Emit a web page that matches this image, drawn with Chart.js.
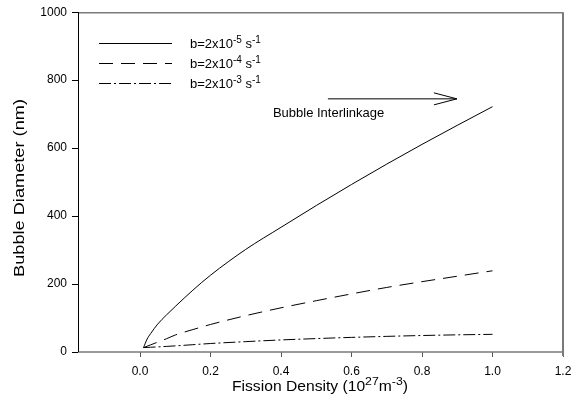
<!DOCTYPE html>
<html><head>
<script src="https://cdn.jsdelivr.net/npm/chart.js@4"></script>
<style>
body { margin: 0; background: #fff; }
#wrap { width: 583px; height: 410px; }
</style></head><body>
<div id="wrap"><canvas id="chart" width="583" height="410"></canvas></div>
<script>
// Fission density (10^27 m^-3)
const FISSION = [0.01, 0.02, 0.03, 0.05, 0.075, 0.1, 0.15, 0.2, 0.3, 0.4, 0.5, 0.6, 0.7, 0.8, 0.9, 1.0];
// Bubble diameter (nm) for each b value
const DIAM_B5 = [13, 38, 54, 82, 109, 134, 182, 226, 302, 367, 431, 493, 553, 611, 667, 722];
const DIAM_B4 = [13, 17, 21, 29, 39, 50, 66, 81, 107, 130, 151, 171, 190, 207, 223, 239];
const DIAM_B3 = [13, 13.5, 14, 15, 16.5, 18, 21.5, 25, 30.5, 35.5, 39.5, 43, 46, 48.5, 50.5, 52];

const SERIES_EXP = ['-5', '-4', '-3'];
const X_TICKS = [0.0, 0.2, 0.4, 0.6, 0.8, 1.0, 1.2];
const Y_TICKS = [0, 200, 400, 600, 800, 1000];

const FONT = '"Liberation Sans", Arial, sans-serif';
const DASHES = [[], [14, 8], [12, 3, 2, 3]];

// annotation: arrow + label, in data units
const ARROW = { x0: 0.533, x1: 0.899, y: 745 };
const NOTE = { x: 0.377, y: 701, text: 'Bubble Interlinkage' };

function toPoints(ys) {
  return FISSION.map((x, i) => ({ x, y: ys[i] }));
}

// draws pieces of text with superscripts, returns width
function drawRich(ctx, parts, x, y, size, measureOnly) {
  let cx = x;
  for (const p of parts) {
    const sz = p.sup ? Math.round(size * 0.75) : size;
    ctx.font = sz + 'px ' + FONT;
    if (!measureOnly) ctx.fillText(p.t, cx, p.sup ? y - size * 0.42 : y);
    cx += ctx.measureText(p.t).width;
  }
  return cx - x;
}

const decor = {
  id: 'decor',
  afterDraw(chart) {
    const { ctx, chartArea: a, scales } = chart;
    const xs = scales.x, ys = scales.y;
    ctx.save();

    // frame
    ctx.strokeStyle = '#7a7a7a';
    ctx.lineWidth = 1.5;
    ctx.beginPath();
    ctx.moveTo(a.left, a.top + 0.5);
    ctx.lineTo(a.right, a.top + 0.5);
    ctx.moveTo(a.left, a.bottom);
    ctx.lineTo(a.right, a.bottom);
    ctx.stroke();
    ctx.lineWidth = 2;
    ctx.beginPath();
    ctx.moveTo(a.right, a.top);
    ctx.lineTo(a.right, a.bottom + 4);
    ctx.stroke();
    ctx.strokeStyle = '#000';
    ctx.lineWidth = 1;
    ctx.beginPath();
    ctx.moveTo(a.left + 0.5, a.top);
    ctx.lineTo(a.left + 0.5, a.bottom);
    ctx.stroke();

    ctx.fillStyle = '#000';
    ctx.textBaseline = 'alphabetic';
    ctx.textAlign = 'left';

    // legend
    for (let i = 0; i < 3; i++) {
      const ly = 43 + i * 20;
      ctx.setLineDash(DASHES[i]);
      ctx.lineWidth = 1;
      ctx.beginPath();
      ctx.moveTo(99, ly + 0.5);
      ctx.lineTo(172, ly + 0.5);
      ctx.stroke();
      ctx.setLineDash([]);
      drawRich(ctx, [{ t: 'b=2x10' }, { t: SERIES_EXP[i], sup: true }, { t: ' s' }, { t: '-1', sup: true }], 190, ly + 5, 13);
    }

    // arrow
    const ax0 = xs.getPixelForValue(ARROW.x0), ax1 = xs.getPixelForValue(ARROW.x1);
    const ay = ys.getPixelForValue(ARROW.y);
    ctx.lineWidth = 1;
    ctx.beginPath();
    ctx.moveTo(ax0, ay);
    ctx.lineTo(ax1, ay);
    ctx.moveTo(ax1 - 23, ay - 6);
    ctx.lineTo(ax1, ay);
    ctx.lineTo(ax1 - 23, ay + 6);
    ctx.stroke();

    ctx.font = '13px ' + FONT;
    ctx.textBaseline = 'middle';
    ctx.fillText(NOTE.text, xs.getPixelForValue(NOTE.x), ys.getPixelForValue(NOTE.y));
    ctx.textBaseline = 'alphabetic';

    // x title
    const xParts = [{ t: 'Fission Density (10' }, { t: '27', sup: true }, { t: 'm' }, { t: '-3', sup: true }, { t: ')' }];
    const xw = drawRich(ctx, xParts, 0, 0, 14, true);
    ctx.save();
    ctx.translate(320 - 88, 391);
    ctx.scale(176 / xw, 1);
    drawRich(ctx, xParts, 0, 0, 14);
    ctx.restore();

    // y title
    ctx.font = '14px ' + FONT;
    const yt = 'Bubble Diameter (nm)';
    const yw = ctx.measureText(yt).width;
    ctx.save();
    ctx.translate(24, 188);
    ctx.rotate(-Math.PI / 2);
    ctx.scale(178 / yw, 1);
    ctx.textAlign = 'center';
    ctx.fillText(yt, 0, 0);
    ctx.restore();

    ctx.restore();
  }
};

const mkSet = (label, ys, i) => ({
  label,
  data: toPoints(ys),
  borderColor: '#000',
  borderWidth: 1,
  borderDash: DASHES[i],
  pointRadius: 0,
  cubicInterpolationMode: 'monotone',
  fill: false,
});

new Chart(document.getElementById('chart'), {
  type: 'line',
  data: {
    datasets: [
      mkSet('b=2x10-5', DIAM_B5, 0),
      mkSet('b=2x10-4', DIAM_B4, 1),
      mkSet('b=2x10-3', DIAM_B3, 2),
    ]
  },
  options: {
    responsive: false,
    animation: false,
    devicePixelRatio: 1,
    layout: { padding: { top: 12, right: 20, left: 0, bottom: 0 } },
    plugins: { legend: { display: false }, tooltip: { enabled: false } },
    scales: {
      x: {
        type: 'linear', min: -0.176, max: 1.2,
        afterBuildTicks: s => { s.ticks = X_TICKS.map(v => ({ value: v })); },
        afterFit: s => { s.height = 58; },
        ticks: { callback: v => Number(v).toFixed(1), color: '#000', font: { family: FONT, size: 12 }, padding: 7, maxRotation: 0, autoSkip: false },
        grid: { drawOnChartArea: false, drawTicks: true, tickLength: 5, color: '#555' },
        border: { display: false },
      },
      y: {
        min: 0, max: 1000,
        afterBuildTicks: s => { s.ticks = Y_TICKS.map(v => ({ value: v })); },
        afterFit: s => { s.width = 78; },
        ticks: { callback: v => String(v), color: '#000', font: { family: FONT, size: 12 }, padding: 5 },
        grid: { drawOnChartArea: false, drawTicks: true, tickLength: 6, color: '#000' },
        border: { display: false },
      }
    }
  },
  plugins: [decor]
});
</script></body></html>
